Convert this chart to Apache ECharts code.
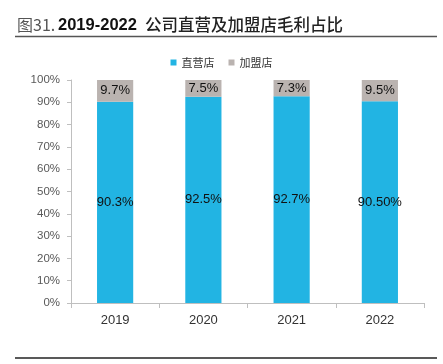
<!DOCTYPE html>
<html><head><meta charset="utf-8">
<script src="https://cdn.jsdelivr.net/npm/echarts@6/dist/echarts.min.js"></script>
<style>html,body{margin:0;padding:0;background:#fff}#c{width:443px;height:364px}</style>
</head><body><div id="c"></div>
<script>
var categories = ['2019', '2020', '2021', '2022'];
var directValues = [90.3, 92.5, 92.7, 90.5];
var franchiseValues = [9.7, 7.5, 7.3, 9.5];
var directLabels = ['90.3%', '92.5%', '92.7%', '90.50%'];
var franchiseLabels = ['9.7%', '7.5%', '7.3%', '9.5%'];

var chart = echarts.init(document.getElementById('c'));
chart.setOption({
  animation: false,
  graphic: [
    {type: 'text', left: 17, top: 17, style: {text: '图31.', font: '16px "Noto Sans CJK SC", sans-serif', fill: '#555'}},
    {type: 'text', left: 58, top: 17, style: {text: '2019-2022', font: 'bold 16.5px Arial, "Liberation Sans", sans-serif', fill: '#111'}},
    {type: 'text', left: 145, top: 16, style: {text: '公司直营及加盟店毛利占比', font: '500 16.5px "Noto Sans CJK SC", sans-serif', fill: '#222'}},
    {type: 'line', shape: {x1: 15, y1: 36.5, x2: 437, y2: 36.5}, style: {stroke: '#555', lineWidth: 1.5}},
    {type: 'line', shape: {x1: 15, y1: 358, x2: 437, y2: 358}, style: {stroke: '#222', lineWidth: 1.5}}
  ],
  legend: {
    top: 52, left: 'center',
    itemWidth: 6, itemHeight: 6, itemGap: 14,
    icon: 'rect',
    textStyle: {fontSize: 11, color: '#333', fontFamily: '"Noto Sans CJK SC", sans-serif'},
    data: ['直营店', '加盟店']
  },
  grid: {left: 71, right: 19, top: 80, bottom: 61},
  xAxis: {
    type: 'category', data: categories,
    axisLine: {lineStyle: {color: '#bfbfbf'}},
    axisTick: {show: true, lineStyle: {color: '#bfbfbf'}, length: 5},
    axisLabel: {fontSize: 13, color: '#333', margin: 11, fontFamily: 'Arial, "Liberation Sans", sans-serif'}
  },
  yAxis: {
    type: 'value', min: 0, max: 100, interval: 10,
    splitLine: {show: false},
    axisLine: {show: true, lineStyle: {color: '#bfbfbf'}},
    axisTick: {show: true, lineStyle: {color: '#bfbfbf'}, length: 4},
    axisLabel: {fontSize: 11.5, color: '#595959', margin: 11, fontFamily: 'Arial, "Liberation Sans", sans-serif',
      formatter: function (v) { return v + '%'; }}
  },
  series: [
    {name: '直营店', type: 'bar', stack: 'a', barWidth: '41%', data: directValues,
      itemStyle: {color: '#22B4E3'},
      label: {show: true, position: 'inside', color: '#111', fontSize: 13, fontFamily: 'Arial, "Liberation Sans", sans-serif',
        formatter: function (p) { return directLabels[p.dataIndex]; }}},
    {name: '加盟店', type: 'bar', stack: 'a', data: franchiseValues,
      itemStyle: {color: '#BAB3B0'},
      label: {show: true, position: 'inside', color: '#111', fontSize: 13, fontFamily: 'Arial, "Liberation Sans", sans-serif',
        formatter: function (p) { return franchiseLabels[p.dataIndex]; }}}
  ]
});
</script></body></html>
